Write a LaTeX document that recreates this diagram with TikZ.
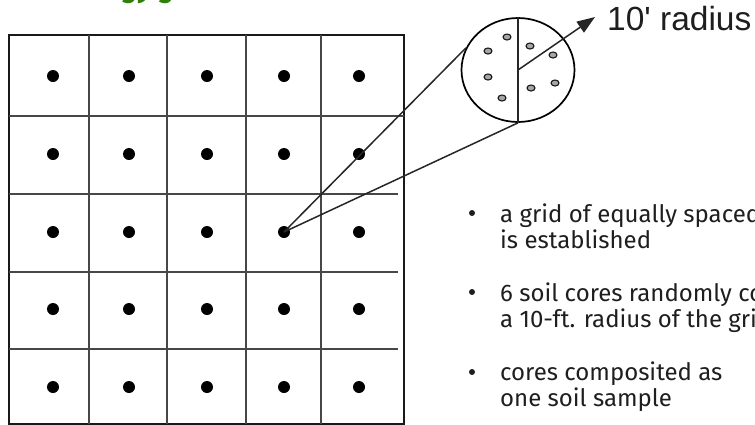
\documentclass[tikz,border=0pt]{standalone}
\usepackage{fontspec}
\setmainfont{Fira Sans}
\newfontfamily\labelfont{Liberation Sans}
\usetikzlibrary{arrows.meta,positioning,shapes.geometric}
\definecolor{titlegreen}{RGB}{46,128,10}
\definecolor{textgray}{RGB}{30,30,30}

\begin{document}
\begin{tikzpicture}[x=1pt,y=-1pt,
    gridline/.style={line width=1.8pt,black!72},
    outerline/.style={line width=2.6pt,black!90},
    gridpt/.style={circle,fill=black,inner sep=0pt,minimum size=12pt},
    core/.style={ellipse,draw=black!90,fill=black!35,line width=1.1pt,inner sep=0pt,minimum width=8pt,minimum height=6pt},
    ray/.style={line width=1.5pt,black!85},
    bullettext/.style={anchor=north west,align=left,inner sep=0pt,font=\fontsize{24}{25.5}\selectfont,text=textgray},
    bulletmark/.style={circle,fill=textgray,inner sep=0pt,minimum size=6pt}]
  \useasboundingbox (0,0) rectangle (755,424);
  \clip (0,0) rectangle (755,424);

  % cropped title, only its descenders show
  \node[anchor=base west,inner sep=0pt,text=titlegreen,font=\bfseries\itshape\fontsize{28}{28}\selectfont] (title) at (122,-3) {gy g};

  % the sampling grid
  \draw[outerline] (9,35) rectangle (404,424);
  \foreach \x in {89,167,246,321}
    \draw[gridline] (\x,35) -- (\x,424);
  \draw[gridline] (9,116) -- (404,116);
  \foreach \y in {194,272,349}
    \draw[gridline] (9,\y) -- (398,\y);
  \foreach \r/\y in {1/76,2/154,3/232,4/309,5/387}
    \foreach \c/\x in {1/53,2/129,3/207,4/284,5/359}
      \node[gridpt] (d-\r-\c) at (\x,\y) {};

  % enlarged sampling zone
  \node[ellipse,draw,line width=1.7pt,inner sep=0pt,minimum width=113pt,minimum height=104pt] (zone) at (518,70) {};
  \draw[ray] (zone.north) -- (zone.south);
  \foreach \x/\y [count=\i] in {507/37,488/51,488/77,502/98,530/46,553/55,531/88,555/83}
    \node[core] (c\i) at (\x,\y) {};
  \coordinate (tip) at (595,17);
  \draw[ray,-{Triangle[length=18pt,width=13pt]}] (zone.center) -- (tip);
  \node[anchor=west,inner sep=0pt,text=textgray,font=\labelfont\fontsize{33.5}{33.5}\selectfont] (lbl) at (607,19) {10' radius};

  \draw[ray] (d-3-4.center) -- (zone.157);
  \draw[ray] (d-3-4.center) -- (zone.south);

  % notes
  \node[bulletmark] (m1) at (472,213) {};
  \node[bullettext] (t1) at (500,204) {a grid of equally spaced\\is established};
  \node[bulletmark] (m2) at (472,292) {};
  \node[bullettext] (t2) at (500,283) {6 soil cores randomly collected\\a 10-ft. radius of the grid};
  \node[bulletmark] (m3) at (472,372) {};
  \node[bullettext] (t3) at (500,362) {cores composited as\\one soil sample};
\end{tikzpicture}
\end{document}
